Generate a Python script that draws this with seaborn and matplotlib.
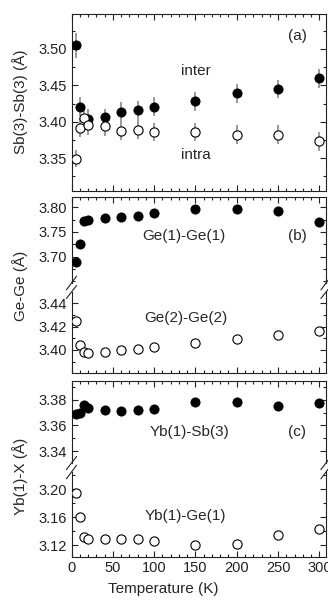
import numpy as np
import pandas as pd
import matplotlib
matplotlib.use("Agg")
import matplotlib.pyplot as plt
from matplotlib.ticker import MultipleLocator, FormatStrFormatter
import seaborn as sns

# ---------------- data ----------------
temps = [5, 10, 15, 20, 40, 60, 80, 100, 150, 200, 250, 300]

sb_inter = [3.505, 3.421, np.nan, 3.404, 3.406, 3.414, 3.416, 3.421, 3.428, 3.439, 3.445, 3.460]
sb_inter_err = [0.017, 0.013, np.nan, 0.013, 0.012, 0.013, 0.013, 0.013, 0.013, 0.013, 0.013, 0.013]
sb_intra = [3.3495, 3.392, 3.405, 3.395, 3.394, 3.388, 3.389, 3.386, 3.386, 3.382, 3.382, 3.373]
sb_intra_err = [0.012, 0.013, 0.013, 0.013, 0.013, 0.013, 0.013, 0.013, 0.013, 0.013, 0.013, 0.013]

ge11 = [3.690, 3.726, 3.773, 3.774, 3.779, 3.781, 3.782, 3.788, 3.797, 3.797, 3.792, 3.771]
ge22 = [3.4246, 3.404, 3.3986, 3.3977, 3.3986, 3.3997, 3.401, 3.4026, 3.4057, 3.409, 3.413, 3.416]

yb_sb3 = [3.369, 3.3696, 3.376, 3.374, 3.372, 3.3717, 3.372, 3.373, 3.3784, 3.3784, 3.3756, 3.378]
yb_ge1 = [3.1943, 3.160, 3.1314, 3.1286, 3.1286, 3.1286, 3.129, 3.126, 3.120, 3.122, 3.134, 3.143]

x_ticks = [0, 50, 100, 150, 200, 250, 300]
yticks_a = [3.35, 3.40, 3.45, 3.50]
yticks_b1 = [3.70, 3.75, 3.80]
yticks_b2 = [3.40, 3.42, 3.44]
yticks_c1 = [3.34, 3.36, 3.38]
yticks_c2 = [3.12, 3.16, 3.20]

df = pd.DataFrame({"T": temps, "inter": sb_inter, "intra": sb_intra,
                   "ge11": ge11, "ge22": ge22, "ybsb": yb_sb3, "ybge": yb_ge1})

# ---------------- style ----------------
sns.set_style("ticks")
plt.rcParams["font.family"] = ["Liberation Sans", "DejaVu Sans"]
plt.rcParams["axes.linewidth"] = 0.8
plt.rcParams["axes.edgecolor"] = "#222222"
plt.rcParams["xtick.color"] = "#222222"
plt.rcParams["ytick.color"] = "#222222"

W, H = 328, 604
fig = plt.figure(figsize=(W / 100, H / 100), dpi=100)

L, R = 71.5, 326.0


def add_ax(top_px, bot_px):
    return fig.add_axes([L / W, 1 - bot_px / H, (R - L) / W, (bot_px - top_px) / H])


ax_a = add_ax(14, 191)
ax_b1 = add_ax(197.3, 283)
ax_b2 = add_ax(292, 372.7)
ax_c1 = add_ax(380.7, 463)
ax_c2 = add_ax(472, 556.7)

MS = 44
TICKFS = 10.5
LABFS = 11
ANNFS = 11


def filled(ax, col):
    sns.scatterplot(data=df, x="T", y=col, ax=ax, s=MS, color="black",
                    edgecolor="black", linewidth=0.6, zorder=3, legend=False)


def opened(ax, col):
    sns.scatterplot(data=df, x="T", y=col, ax=ax, s=MS, facecolor="white",
                    edgecolor="black", linewidth=0.8, zorder=4, legend=False)


def style(ax, ylim, yticks, minor, fmt, top=True, bottom=True, xlabels=False):
    ax.set_xlim(0, 308)
    ax.set_ylim(*ylim)
    ax.set_xticks(x_ticks)
    ax.xaxis.set_minor_locator(MultipleLocator(10))
    ax.set_yticks(yticks)
    ax.yaxis.set_minor_locator(MultipleLocator(minor))
    ax.yaxis.set_major_formatter(FormatStrFormatter(fmt))
    ax.set_ylim(*ylim)
    ax.tick_params(which="both", direction="in", left=True, right=True,
                   top=top, bottom=bottom, labelbottom=xlabels,
                   labelsize=TICKFS, width=0.8, pad=3)
    ax.tick_params(which="major", length=4.5)
    ax.tick_params(which="minor", length=2.5)
    ax.set_xlabel("")
    ax.set_ylabel("")
    ax.spines["top"].set_visible(top)
    ax.spines["bottom"].set_visible(bottom)


def breaks(ax_up, ax_lo):
    d = 0.02
    kw = dict(color="#222222", lw=0.8, clip_on=False)
    tr = ax_up.transAxes
    ax_up.plot((-d, d), (-d * 4, d * 4), transform=tr, **kw)
    ax_up.plot((1 - d, 1 + d), (-d * 4, d * 4), transform=tr, **kw)
    tr = ax_lo.transAxes
    ax_lo.plot((-d, d), (1 - d * 4, 1 + d * 4), transform=tr, **kw)
    ax_lo.plot((1 - d, 1 + d), (1 - d * 4, 1 + d * 4), transform=tr, **kw)


# ---- panel (a) ----
ax_a.errorbar(df["T"], df["inter"], yerr=sb_inter_err, fmt="none",
              ecolor="#8a8a8a", elinewidth=1.2, capsize=0, zorder=2)
ax_a.errorbar(df["T"], df["intra"], yerr=sb_intra_err, fmt="none",
              ecolor="#8a8a8a", elinewidth=1.2, capsize=0, zorder=2)
filled(ax_a, "inter")
opened(ax_a, "intra")
style(ax_a, (3.305, 3.548), yticks_a, 0.025, "%.2f")
ax_a.text(273, 3.518, "(a)", fontsize=ANNFS, ha="center", va="center")
ax_a.text(151, 3.470, "inter", fontsize=ANNFS, ha="center", va="center")
ax_a.text(151, 3.354, "intra", fontsize=ANNFS, ha="center", va="center")

# ---- panel (b) ----
filled(ax_b1, "ge11")
opened(ax_b2, "ge22")
style(ax_b1, (3.6468, 3.8202), yticks_b1, 0.025, "%.2f", top=True, bottom=False)
style(ax_b2, (3.3805, 3.4497), yticks_b2, 0.01, "%.2f", top=False, bottom=True)
breaks(ax_b1, ax_b2)
ax_b1.text(136, 3.7425, "Ge(1)-Ge(1)", fontsize=ANNFS, ha="center", va="center")
ax_b1.text(273, 3.7425, "(b)", fontsize=ANNFS, ha="center", va="center")
ax_b2.text(139, 3.4271, "Ge(2)-Ge(2)", fontsize=ANNFS, ha="center", va="center")

# ---- panel (c) ----
filled(ax_c1, "ybsb")
opened(ax_c2, "ybge")
style(ax_c1, (3.3306, 3.3951), yticks_c1, 0.01, "%.2f", top=True, bottom=False)
style(ax_c2, (3.1037, 3.2247), yticks_c2, 0.02, "%.2f", top=False, bottom=True, xlabels=True)
breaks(ax_c1, ax_c2)
ax_c1.text(143, 3.3547, "Yb(1)-Sb(3)", fontsize=ANNFS, ha="center", va="center")
ax_c1.text(273, 3.3547, "(c)", fontsize=ANNFS, ha="center", va="center")
ax_c2.text(138, 3.162, "Yb(1)-Ge(1)", fontsize=ANNFS, ha="center", va="center")

# ---- axis labels ----
fig.text(20 / W, 1 - 102 / H, "Sb(3)-Sb(3) (Å)", rotation=90, fontsize=LABFS,
         ha="center", va="center")
fig.text(20 / W, 1 - 286 / H, "Ge-Ge (Å)", rotation=90, fontsize=LABFS,
         ha="center", va="center")
fig.text(20 / W, 1 - 476 / H, "Yb(1)-X (Å)", rotation=90, fontsize=LABFS,
         ha="center", va="center")
fig.text(163 / W, 1 - 589 / H, "Temperature (K)", fontsize=LABFS,
         ha="center", va="center")

fig.savefig("out.png", dpi=100)
